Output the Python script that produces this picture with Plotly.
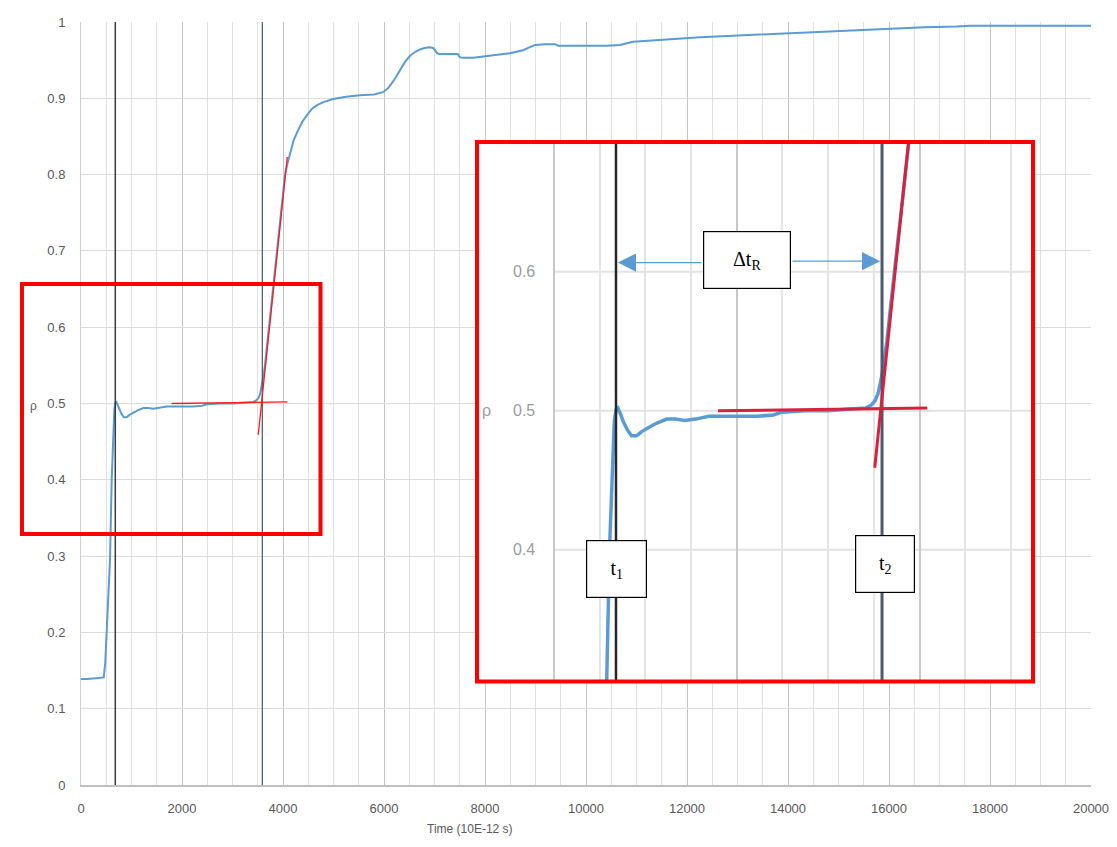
import plotly.graph_objects as go

# ---------------- data ----------------
time = [0, 120, 300, 450, 480, 508, 540, 574, 608, 640, 660, 680, 700, 720, 760, 805, 850, 904,
        960, 1036, 1120, 1234, 1330, 1430, 1550, 1697, 1900, 2220, 2400, 2490, 2750, 3010, 3200,
        3410, 3470, 3512, 3545, 3578, 3610, 3643, 3700, 3800, 3900, 4000, 4040, 4090, 4138, 4210,
        4297, 4380, 4475, 4570, 4673, 4800, 4990, 5250, 5524, 5800, 5980, 6080, 6200, 6316, 6420,
        6520, 6620, 6712, 6800, 6900, 6970, 7010, 7050, 7100, 7300, 7460, 7500, 7564, 7762, 8000,
        8250, 8494, 8752, 8900, 8990, 9200, 9385, 9450, 9524, 10000, 10400, 10672, 10800, 10930,
        11600, 12256, 12910, 13600, 14236, 14570, 15300, 16020, 16700, 17340, 17600, 20000]
rho = [0.139, 0.139, 0.140, 0.141, 0.160, 0.199, 0.250, 0.295, 0.400, 0.465, 0.492, 0.501, 0.502,
       0.499, 0.492, 0.486, 0.482, 0.482, 0.485, 0.488, 0.491, 0.494, 0.494, 0.493, 0.494, 0.496,
       0.496, 0.496, 0.497, 0.499, 0.500, 0.500, 0.501, 0.502, 0.504, 0.507, 0.512, 0.522, 0.535,
       0.550, 0.585, 0.650, 0.715, 0.778, 0.800, 0.815, 0.828, 0.845, 0.858, 0.869, 0.878, 0.886,
       0.891, 0.895, 0.899, 0.902, 0.904, 0.905, 0.908, 0.913, 0.924, 0.937, 0.948, 0.956, 0.961,
       0.964, 0.966, 0.967, 0.966, 0.963, 0.959, 0.958, 0.958, 0.958, 0.954, 0.953, 0.953, 0.955,
       0.957, 0.959, 0.963, 0.967, 0.970, 0.971, 0.971, 0.969, 0.969, 0.969, 0.969, 0.970, 0.972,
       0.974, 0.977, 0.980, 0.982, 0.984, 0.986, 0.987, 0.989, 0.991, 0.993, 0.994, 0.995, 0.995]

t1 = 679
t2 = 3590
plateau_x = [1795, 4085]
plateau_y = [0.500, 0.502]
tangent_x = [3510, 4085]
tangent_y = [0.459, 0.823]

x_ticks = [0, 2000, 4000, 6000, 8000, 10000, 12000, 14000, 16000, 18000, 20000]
x_tick_text = [str(v) for v in x_ticks]
inset_ticks = [0.4, 0.5, 0.6]

BLUE = "#5B9BD5"
RED = "#FF1A1A"
RED2 = "#D9203F"

# plot area in page pixels: left 81, right 1091, top 22, bottom 785
# (the html page body has an 8px margin, compensate for it)
OFF = 8
W, H = 1117 - OFF, 847 - OFF
L, R, T, B = 81, 1091, 22, 785
def px(x):
    return (x - L) / (R - L)
def py(y):
    return (B - y) / (B - T)

fig = go.Figure()

# ---- main chart traces ----
fig.add_trace(go.Scatter(x=time, y=rho, mode="lines", line=dict(color=BLUE, width=2),
                         xaxis="x", yaxis="y", hoverinfo="skip"))
fig.add_trace(go.Scatter(x=[t1, t1], y=[0, 1], mode="lines", line=dict(color="#3a3a3a", width=1.5),
                         xaxis="x", yaxis="y"))
fig.add_trace(go.Scatter(x=[t2, t2], y=[0, 1], mode="lines", line=dict(color="#44546A", width=1.2),
                         xaxis="x", yaxis="y"))
fig.add_trace(go.Scatter(x=plateau_x, y=plateau_y, mode="lines", line=dict(color=RED, width=1.3),
                         xaxis="x", yaxis="y"))
fig.add_trace(go.Scatter(x=tangent_x, y=tangent_y, mode="lines", line=dict(color=RED, width=1.3),
                         xaxis="x", yaxis="y"))

# ---- inset (magnified) traces ----
fig.add_trace(go.Scatter(x=time, y=rho, mode="lines", line=dict(color=BLUE, width=3.5),
                         xaxis="x2", yaxis="y2"))
fig.add_trace(go.Scatter(x=[t1, t1], y=[0, 1], mode="lines", line=dict(color="#262626", width=2.5),
                         xaxis="x2", yaxis="y2"))
fig.add_trace(go.Scatter(x=[t2, t2], y=[0, 1], mode="lines", line=dict(color="#4A5A6E", width=3),
                         xaxis="x2", yaxis="y2"))
fig.add_trace(go.Scatter(x=plateau_x, y=plateau_y, mode="lines", line=dict(color=RED2, width=3),
                         xaxis="x2", yaxis="y2"))
fig.add_trace(go.Scatter(x=tangent_x, y=tangent_y, mode="lines", line=dict(color=RED2, width=3),
                         xaxis="x2", yaxis="y2"))

tick_font = dict(family="Liberation Sans", size=13, color="#595959")

fig.update_layout(
    width=W, height=H,
    margin=dict(l=L - OFF, r=W - (R - OFF), t=T - OFF, b=H - (B - OFF), autoexpand=False),
    paper_bgcolor="white", plot_bgcolor="white",
    showlegend=False,
    xaxis=dict(domain=[0, 1], range=[0, 20000], tickmode="array", tickvals=x_ticks,
               ticktext=x_tick_text, showgrid=True, automargin=False,
               gridcolor="#c4c4c4", gridwidth=1,
               minor=dict(dtick=500, tick0=0, showgrid=True, gridcolor="#e0e0e0", gridwidth=1),
               showline=True, linecolor="#bfbfbf", linewidth=1.5, zeroline=False,
               tickfont=tick_font, ticks="", ticklabelstandoff=11, anchor="y"),
    yaxis=dict(domain=[0, 1], range=[0, 1], dtick=0.1, showgrid=True, gridcolor="#dcdcdc",
               gridwidth=1, showline=True, linecolor="#cfcfcf", linewidth=1, zeroline=False,
               automargin=False,
               tickfont=tick_font, ticks="", ticklabelstandoff=12, anchor="x"),
    xaxis2=dict(domain=[px(479), px(1031)], range=[-820, 5220], anchor="y2", automargin=False,
                tickmode="array", tickvals=[0, 2000, 4000], showticklabels=False,
                showgrid=True, gridcolor="#c8c8c8", gridwidth=1.5, zeroline=False, showline=False,
                minor=dict(tickvals=[500, 1000, 1500, 2500, 3000, 3500, 4500, 5000],
                           showgrid=True, gridcolor="#e4e4e4", gridwidth=1.5)),
    yaxis2=dict(domain=[py(680), py(144)], range=[0.3063, 0.6919], anchor="x2", automargin=False,
                showgrid=False, showticklabels=False, zeroline=False, showline=False),
)

shapes = []
# inset horizontal gridlines (only over the magnified plot area)
for v in inset_ticks:
    shapes.append(dict(type="line", xref="x2", yref="y2", x0=0, x1=5220, y0=v, y1=v,
                       line=dict(color="#e2e2e2", width=2), layer="below"))
# outer chart frame (left and top edges visible)
shapes.append(dict(type="line", xref="paper", yref="paper", x0=px(7), x1=px(7),
                   y0=py(847), y1=py(7), line=dict(color="#d9d9d9", width=1.5)))
shapes.append(dict(type="line", xref="paper", yref="paper", x0=px(7), x1=px(1117),
                   y0=py(7), y1=py(7), line=dict(color="#d9d9d9", width=1.5)))
# red highlight box on main chart
shapes.append(dict(type="rect", xref="paper", yref="paper", x0=px(22), x1=px(320.5),
                   y0=py(534), y1=py(284), line=dict(color="#FF0000", width=4)))
# red frame of the inset
shapes.append(dict(type="rect", xref="paper", yref="paper", x0=px(477), x1=px(1033),
                   y0=py(681.5), y1=py(142), line=dict(color="#FF0000", width=4)))
fig.update_layout(shapes=shapes)

ann = []
# axis titles
ann.append(dict(text="Time (10E-12 s)", xref="paper", yref="paper", x=px(470), y=py(829),
                xanchor="center", yanchor="middle",
                showarrow=False, font=dict(family="Liberation Sans", size=12, color="#595959")))
ann.append(dict(text="ρ", xref="paper", yref="paper", x=px(33), y=py(406),
                xanchor="center", yanchor="middle",
                showarrow=False, font=dict(family="Liberation Sans", size=12, color="#595959")))
# inset tick labels
for v in inset_ticks:
    ann.append(dict(text=f"{v:.1f}", xref="paper", yref="y2", x=px(537), y=v, xanchor="right",
                    yanchor="middle",
                    showarrow=False, font=dict(family="Liberation Sans", size=16, color="#9c9c9c")))
ann.append(dict(text="ρ", xref="paper", yref="y2", x=px(486), y=0.5, showarrow=False,
                xanchor="center", yanchor="middle",
                font=dict(family="Liberation Sans", size=16, color="#9c9c9c")))
# arrows for delta t_R
arrow_y = 0.6066
ann.append(dict(text="", xref="x2", yref="y2", axref="x2", ayref="y2", x=t1 + 20, y=arrow_y,
                ax=1631, ay=arrow_y, showarrow=True, arrowhead=2, arrowsize=2.8, arrowwidth=1.3,
                arrowcolor=BLUE))
ann.append(dict(text="", xref="x2", yref="y2", axref="x2", ayref="y2", x=t2 - 20, y=arrow_y + 0.001,
                ax=2594, ay=arrow_y + 0.001, showarrow=True, arrowhead=2, arrowsize=2.8,
                arrowwidth=1.3, arrowcolor=BLUE))
# label boxes
box_font = dict(family="Liberation Serif", size=20, color="black")
def box(text, x0, x1, y0, y1):
    return dict(text=text, xref="paper", yref="paper", x=px((x0 + x1) / 2), y=py((y0 + y1) / 2),
                xanchor="center", yanchor="middle", showarrow=False, width=x1 - x0 - 2,
                height=y1 - y0 - 2, borderpad=0, bordercolor="black", borderwidth=1.2,
                bgcolor="white", font=box_font, align="center", valign="middle")
ann.append(box("Δt<sub>R</sub>", 703, 791, 231, 289))
ann.append(box("t<sub>1</sub>", 586, 647, 540, 598))
ann.append(box("t<sub>2</sub>", 855, 915, 535, 593))
fig.update_layout(annotations=ann)

fig.write_html("out.html")
